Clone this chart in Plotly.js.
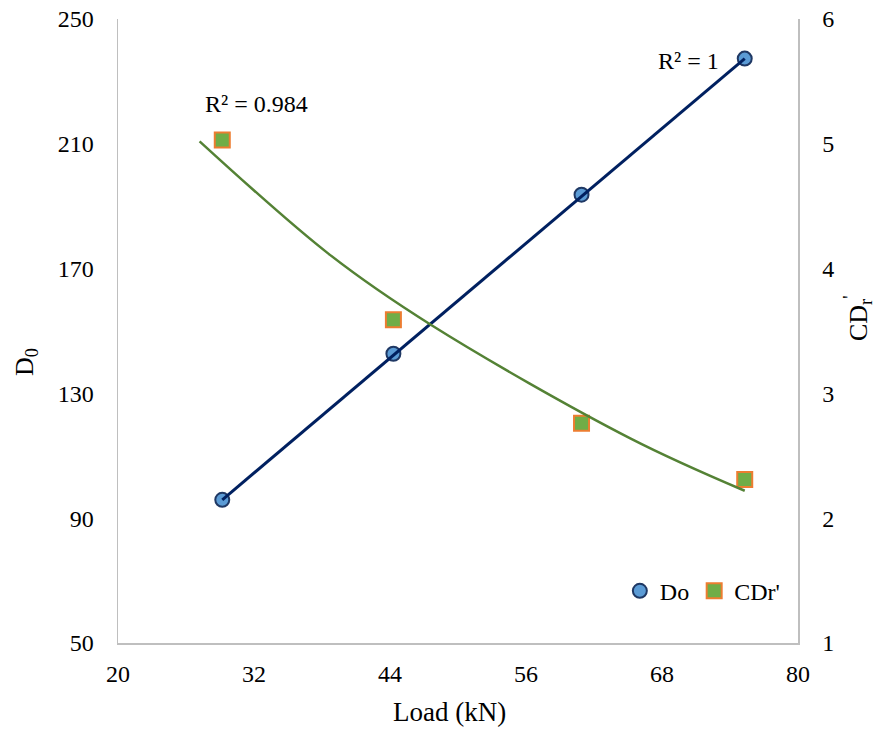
<!DOCTYPE html>
<html>
<head>
<meta charset="utf-8">
<script src="https://cdn.plot.ly/plotly-3.0.1.min.js"></script>
<style>html,body{margin:0;padding:0;background:#fff;}#chart{width:875px;height:730px;}</style>
</head>
<body>
<div id="chart"></div>
<script>
// Data
const loadKN = [29.2, 44.3, 60.9, 75.3];
const doValues = [95.9, 142.7, 193.7, 237.3];
const cdrValues = [5.03, 3.59, 2.76, 2.31];
// Trendline points
const doTrendX = [29.2, 75.3];
const doTrendY = [95.9, 237.3];
const cdrTrendX = [27.2, 38.7, 47.6, 65.2, 75.3];
const cdrTrendY = [5.02, 4.11, 3.55, 2.64, 2.22];
const xTicks = [20, 32, 44, 56, 68, 80];
const yTicks = [50, 90, 130, 170, 210, 250];
const y2Ticks = [1, 2, 3, 4, 5, 6];

const FONT = 'Liberation Serif, Times New Roman, serif';
const fs = 24;
const tfs = 26;

const traces = [
  {x: loadKN, y: doValues, name: 'Do', type: 'scatter', mode: 'markers',
   marker: {symbol: 'circle', size: 14, color: '#5B9BD5', line: {color: '#1F3864', width: 2}}},
  {x: loadKN, y: cdrValues, name: "CDr'", type: 'scatter', mode: 'markers', yaxis: 'y2',
   marker: {symbol: 'square', size: 15, color: '#70AD47', line: {color: '#ED7D31', width: 2}}},
  {x: doTrendX, y: doTrendY, type: 'scatter', mode: 'lines', showlegend: false, hoverinfo: 'skip',
   line: {color: '#002060', width: 3}},
  {x: cdrTrendX, y: cdrTrendY, type: 'scatter', mode: 'lines', showlegend: false, hoverinfo: 'skip', yaxis: 'y2',
   line: {color: '#548235', width: 2.5, shape: 'spline', smoothing: 1}}
];

const layout = {
  width: 875, height: 730,
  margin: {l: 118, r: 77, t: 19, b: 87, pad: 0},
  paper_bgcolor: '#ffffff', plot_bgcolor: '#ffffff',
  font: {family: FONT, size: fs, color: '#000000'},
  showlegend: true,
  legend: {orientation: 'h', x: 0.738, y: 0.083, xanchor: 'left', yanchor: 'middle',
           bgcolor: 'rgba(0,0,0,0)', font: {family: FONT, size: fs, color: '#000'}, itemwidth: 30},
  xaxis: {range: [20, 80], tickvals: xTicks, ticktext: xTicks.map(String), showgrid: false, zeroline: false,
          showline: true, linecolor: '#BFBFBF', linewidth: 1.5, ticks: '', ticklabelstandoff: 9,
          tickfont: {family: FONT, size: fs, color: '#000'}},
  yaxis: {range: [50, 250], tickvals: yTicks, ticktext: yTicks.map(String), showgrid: false, zeroline: false,
          showline: true, linecolor: '#BFBFBF', linewidth: 1.5, ticks: '', ticklabelstandoff: 18,
          tickfont: {family: FONT, size: fs, color: '#000'}},
  yaxis2: {range: [1, 6], tickvals: y2Ticks, ticktext: y2Ticks.map(String), overlaying: 'y', side: 'right',
           showgrid: false, zeroline: false, showline: true, linecolor: '#BFBFBF', linewidth: 1.5, ticks: '',
           ticklabelstandoff: 18, tickfont: {family: FONT, size: fs, color: '#000'}},
  annotations: [
    {text: 'R² = 0.984', x: 32.2, y: 222.6, xref: 'x', yref: 'y', showarrow: false, font: {family: FONT, size: fs, color: '#000'}},
    {text: 'R² = 1', x: 70.35, y: 236.7, xref: 'x', yref: 'y', showarrow: false, font: {family: FONT, size: fs, color: '#000'}},
    {text: 'Load (kN)', x: (449 - 118) / 680, y: -(712 - 643) / 624, xref: 'paper', yref: 'paper', showarrow: false,
     xanchor: 'center', yanchor: 'middle', font: {family: FONT, size: 27, color: '#000'}},
    {text: 'D<sub>0</sub>', x: -(118 - 26) / 680, y: (643 - 362) / 624, xref: 'paper', yref: 'paper', showarrow: false,
     textangle: -90, xanchor: 'center', yanchor: 'middle', font: {family: FONT, size: tfs, color: '#000'}},
    {text: "CD<sub>r</sub><sup>'</sup>", x: 1 + (858 - 798) / 680, y: (643 - 318) / 624, xref: 'paper', yref: 'paper', showarrow: false,
     textangle: -90, xanchor: 'center', yanchor: 'middle', font: {family: FONT, size: tfs, color: '#000'}}
  ]
};

Plotly.newPlot('chart', traces, layout, {displayModeBar: false, staticPlot: true});
</script>
</body>
</html>
